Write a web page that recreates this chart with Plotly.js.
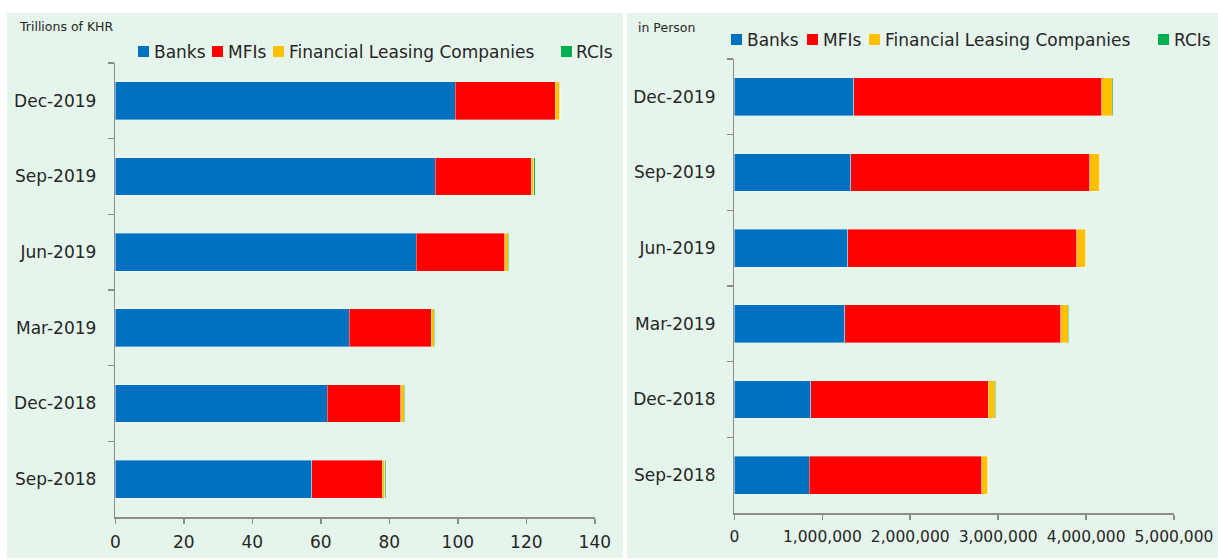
<!DOCTYPE html>
<html>
<head>
<meta charset="utf-8">
<script src="https://cdn.plot.ly/plotly-3.0.1.min.js"></script>
<style>html,body{margin:0;padding:0;background:#fff;overflow:hidden;}#chart{width:1218px;height:560px;}</style>
</head>
<body>
<div id="chart"></div>
<script>
// Quarters (top to bottom)
const categories = ['Dec-2019', 'Sep-2019', 'Jun-2019', 'Mar-2019', 'Dec-2018', 'Sep-2018'];
const seriesNames = ['Banks', 'MFIs', 'Financial Leasing Companies', 'RCIs'];

// Left panel: Trillions of KHR
const khrBanks = [99.3, 93.4, 87.8, 68.3, 61.9, 57.4];
const khrMFIs  = [29.2, 28.0, 25.9, 23.9, 21.5, 20.6];
const khrFLC   = [1.2, 0.8, 1.0, 0.9, 0.9, 0.7];
const khrRCIs  = [0.2, 0.4, 0.2, 0.2, 0.2, 0.2];

// Right panel: in Person
const pplBanks = [1356000, 1325000, 1291000, 1257000, 870000, 851000];
const pplMFIs  = [2825000, 2719000, 2605000, 2457000, 2017000, 1965000];
const pplFLC   = [114000, 111000, 99000, 83000, 80000, 68000];
const pplRCIs  = [12000, 3000, 3000, 3000, 5000, 6000];

const leftTicks = [0, 20, 40, 60, 80, 100, 120, 140];
const rightTicks = [0, 1000000, 2000000, 3000000, 4000000, 5000000];
const rightTickText = ['0', '1,000,000', '2,000,000', '3,000,000', '4,000,000', '5,000,000'];

const colors = ['#0070C0', '#FF0000', '#FFC000', '#00B050'];
const FONT = 'DejaVu Sans, sans-serif';
const TXT = '#262626';
const W = 1218, H = 560;
const px = v => v / W;
const py = v => 1 - v / H;

const leftSeries = [khrBanks, khrMFIs, khrFLC, khrRCIs];
const rightSeries = [pplBanks, pplMFIs, pplFLC, pplRCIs];

const traces = [];
leftSeries.forEach((vals, i) => {
  traces.push({
    type: 'bar', orientation: 'h', name: seriesNames[i],
    x: vals, y: categories, xaxis: 'x', yaxis: 'y',
    marker: {color: colors[i], line: {color: 'rgba(255,255,255,0.6)', width: 0.6}},
    showlegend: false
  });
});
rightSeries.forEach((vals, i) => {
  traces.push({
    type: 'bar', orientation: 'h', name: seriesNames[i],
    x: vals, y: categories, xaxis: 'x2', yaxis: 'y2',
    marker: {color: colors[i], line: {color: 'rgba(255,255,255,0.6)', width: 0.6}},
    showlegend: false
  });
});

const axisCommon = {
  showgrid: false, zeroline: false, showline: true,
  linecolor: '#8c8c8c', linewidth: 1.5,
  ticks: 'outside', tickcolor: '#8c8c8c', ticklen: 5, tickwidth: 1.5,
  tickfont: {family: FONT, size: 17, color: TXT}
};

// Legend keys (one square + label per series, for each panel)
const legendLeft = {sq: [138, 212, 273, 561], txt: [153, 227, 288, 575], top: 46, size: 11};
const legendRight = {sq: [731, 807, 869, 1158], txt: [746, 822, 884, 1173], top: 34, size: 11};

const shapes = [
  {type: 'rect', xref: 'paper', yref: 'paper', x0: px(7), x1: px(623), y0: py(558), y1: py(13),
   fillcolor: '#E5F5EC', line: {width: 0}, layer: 'below'},
  {type: 'rect', xref: 'paper', yref: 'paper', x0: px(627), x1: px(1218), y0: py(558), y1: py(13),
   fillcolor: '#E5F5EC', line: {width: 0}, layer: 'below'}
];
const annotations = [
  {text: 'Trillions of KHR', xref: 'paper', yref: 'paper', x: px(17), y: py(26),
   xanchor: 'left', yanchor: 'middle', showarrow: false,
   font: {family: FONT, size: 12.5, color: TXT}},
  {text: 'in Person', xref: 'paper', yref: 'paper', x: px(636), y: py(27),
   xanchor: 'left', yanchor: 'middle', showarrow: false,
   font: {family: FONT, size: 12.5, color: TXT}}
];
[legendLeft, legendRight].forEach(lg => {
  seriesNames.forEach((name, i) => {
    shapes.push({type: 'rect', xref: 'paper', yref: 'paper',
      x0: px(lg.sq[i]), x1: px(lg.sq[i] + lg.size), y0: py(lg.top + lg.size), y1: py(lg.top),
      fillcolor: colors[i], line: {width: 0}});
    annotations.push({text: name, xref: 'paper', yref: 'paper',
      x: px(lg.txt[i] - 1), y: py(lg.top + lg.size / 2 + 0.5), xanchor: 'left', yanchor: 'middle',
      showarrow: false, font: {family: FONT, size: 17, color: TXT}});
  });
});

const layout = {
  width: W, height: H,
  margin: {l: 0, r: 0, t: 0, b: 0, autoexpand: false},
  paper_bgcolor: '#ffffff', plot_bgcolor: 'rgba(0,0,0,0)',
  barmode: 'stack', bargap: 0.5,
  font: {family: FONT, color: TXT},
  showlegend: false,
  xaxis: Object.assign({}, axisCommon, {
    domain: [px(115.3), px(594.8)], anchor: 'y', range: [0, 140],
    tickmode: 'array', tickvals: leftTicks, ticklabelstandoff: 4, tickangle: 0
  }),
  yaxis: Object.assign({}, axisCommon, {
    domain: [py(517), py(63)], anchor: 'x', type: 'category',
    categoryorder: 'array', categoryarray: categories, autorange: 'reversed',
    tickson: 'boundaries', ticklen: 6, ticklabelstandoff: 14
  }),
  xaxis2: Object.assign({}, axisCommon, {
    domain: [px(734.4), px(1174)], anchor: 'y2', range: [0, 5000000],
    tickmode: 'array', tickvals: rightTicks, ticktext: rightTickText,
    ticklabelstandoff: 4, tickangle: 0,
    tickfont: {family: FONT, size: 15.5, color: TXT}
  }),
  yaxis2: Object.assign({}, axisCommon, {
    domain: [py(513), py(59)], anchor: 'x2', type: 'category',
    categoryorder: 'array', categoryarray: categories, autorange: 'reversed',
    tickson: 'boundaries', ticklen: 6, ticklabelstandoff: 14
  }),
  shapes: shapes,
  annotations: annotations
};

Plotly.newPlot('chart', traces, layout, {displayModeBar: false, staticPlot: true});
</script>
</body>
</html>
